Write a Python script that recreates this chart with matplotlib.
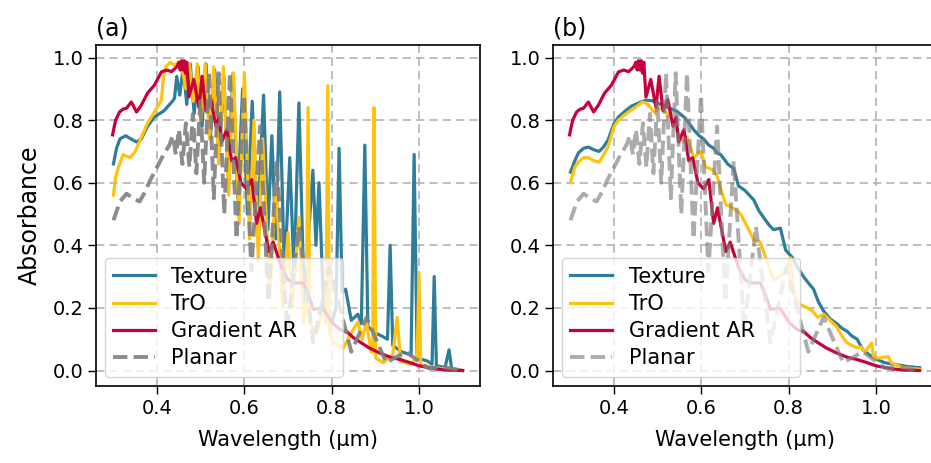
import numpy as np
import matplotlib
matplotlib.use("Agg")
import matplotlib.pyplot as plt

# ---- data (wavelength in um, absorbance) ----
# shared curves: Gradient AR and Planar are the same in both panels
grad_wl = [0.298, 0.305, 0.314, 0.322, 0.330, 0.341, 0.353, 0.364, 0.378, 0.394,
           0.410, 0.422, 0.433, 0.445, 0.450, 0.453, 0.456, 0.459, 0.462, 0.465,
           0.468, 0.473, 0.484, 0.496, 0.503, 0.512, 0.523, 0.535, 0.542, 0.548,
           0.560, 0.571, 0.580, 0.592, 0.605, 0.617, 0.628, 0.637, 0.645, 0.656,
           0.666, 0.685, 0.700, 0.713, 0.735, 0.750, 0.758, 0.780, 0.800, 0.820,
           0.834, 0.850, 0.866, 0.885, 0.910, 0.935, 0.957, 0.980, 1.000, 1.020,
           1.040, 1.060, 1.080, 1.100]
grad_abs = [0.753, 0.800, 0.826, 0.835, 0.838, 0.858, 0.826, 0.848, 0.886, 0.912,
            0.954, 0.960, 0.955, 0.970, 0.985, 0.960, 0.990, 0.960, 0.990, 0.950,
            0.985, 0.874, 0.930, 0.840, 0.940, 0.830, 0.866, 0.780, 0.810, 0.730,
            0.770, 0.670, 0.680, 0.600, 0.580, 0.610, 0.470, 0.520, 0.460, 0.380,
            0.410, 0.330, 0.290, 0.280, 0.280, 0.230, 0.195, 0.200, 0.155, 0.130,
            0.125, 0.105, 0.090, 0.073, 0.056, 0.042, 0.035, 0.025, 0.015, 0.010,
            0.005, 0.002, 0.001, 0.000]

planar_wl = [0.300, 0.315, 0.330, 0.345, 0.360, 0.372, 0.385, 0.400, 0.415, 0.428,
             0.436, 0.443, 0.450, 0.458, 0.466, 0.474, 0.482, 0.490, 0.499, 0.508,
             0.519, 0.530, 0.541, 0.554, 0.567, 0.582, 0.599, 0.616, 0.636, 0.655,
             0.674, 0.698, 0.725, 0.758, 0.795, 0.845, 0.880, 0.925, 0.970, 1.020,
             1.060, 1.100]
planar_abs = [0.480, 0.540, 0.565, 0.550, 0.540, 0.570, 0.610, 0.650, 0.690, 0.720,
              0.750, 0.690, 0.770, 0.660, 0.790, 0.650, 0.820, 0.630, 0.860, 0.600,
              0.950, 0.550, 0.950, 0.500, 0.950, 0.420, 0.880, 0.320, 0.780, 0.220,
              0.670, 0.130, 0.460, 0.090, 0.330, 0.060, 0.170, 0.025, 0.060, 0.008,
              0.010, 0.000]

# panel (a)
tex_a_wl = [0.300, 0.307, 0.315, 0.328, 0.340, 0.353, 0.364, 0.378, 0.394, 0.416,
            0.435, 0.440, 0.445, 0.452, 0.460, 0.468, 0.476, 0.485, 0.494, 0.503,
            0.512, 0.522, 0.532, 0.543, 0.553, 0.563, 0.574, 0.585, 0.596, 0.607,
            0.618, 0.630, 0.644, 0.654, 0.663, 0.672, 0.681, 0.692, 0.704, 0.714,
            0.725, 0.737, 0.748, 0.757, 0.764, 0.771, 0.782, 0.800, 0.810, 0.817,
            0.824, 0.832, 0.845, 0.860, 0.868, 0.876, 0.883, 0.900, 0.915, 0.928,
            0.934, 0.940, 0.960, 0.982, 0.989, 0.996, 1.020, 1.030, 1.035, 1.040,
            1.060, 1.069, 1.075, 1.100]
tex_a_abs = [0.660, 0.710, 0.740, 0.750, 0.740, 0.730, 0.740, 0.780, 0.810, 0.830,
             0.860, 0.870, 0.940, 0.880, 0.970, 0.850, 0.980, 0.820, 0.970, 0.780,
             0.980, 0.740, 0.960, 0.700, 0.940, 0.620, 0.950, 0.550, 0.900, 0.500,
             0.860, 0.450, 0.880, 0.450, 0.750, 0.420, 0.890, 0.300, 0.680, 0.300,
             0.855, 0.220, 0.450, 0.640, 0.400, 0.600, 0.180, 0.150, 0.200, 0.710,
             0.250, 0.260, 0.160, 0.180, 0.150, 0.720, 0.140, 0.120, 0.110, 0.100,
             0.400, 0.080, 0.060, 0.050, 0.690, 0.040, 0.030, 0.020, 0.300, 0.015,
             0.010, 0.066, 0.005, 0.000]

tro_a_wl = [0.300, 0.305, 0.314, 0.322, 0.330, 0.338, 0.350, 0.364, 0.378, 0.394,
            0.410, 0.414, 0.420, 0.430, 0.440, 0.450, 0.458, 0.466, 0.474, 0.483,
            0.492, 0.501, 0.510, 0.520, 0.530, 0.541, 0.552, 0.564, 0.575, 0.588,
            0.600, 0.612, 0.622, 0.632, 0.642, 0.658, 0.672, 0.688, 0.700, 0.710,
            0.725, 0.736, 0.742, 0.746, 0.750, 0.766, 0.780, 0.787, 0.791, 0.795,
            0.805, 0.826, 0.845, 0.860, 0.870, 0.880, 0.890, 0.894, 0.897, 0.901,
            0.918, 0.940, 0.950, 0.958, 0.980, 0.996, 1.000, 1.004, 1.030, 1.060,
            1.100]
tro_a_abs = [0.560, 0.620, 0.660, 0.690, 0.685, 0.680, 0.700, 0.745, 0.790, 0.826,
             0.864, 0.930, 0.970, 0.985, 0.975, 0.985, 0.960, 0.900, 0.980, 0.860,
             0.980, 0.800, 0.980, 0.740, 0.970, 0.660, 0.970, 0.560, 0.950, 0.470,
             0.950, 0.420, 0.800, 0.350, 0.740, 0.235, 0.600, 0.200, 0.440, 0.200,
             0.490, 0.150, 0.200, 0.840, 0.150, 0.120, 0.200, 0.150, 0.910, 0.120,
             0.090, 0.070, 0.120, 0.155, 0.100, 0.155, 0.060, 0.060, 0.840, 0.040,
             0.025, 0.050, 0.170, 0.030, 0.020, 0.040, 0.310, 0.020, 0.010, 0.005,
             0.000]

# panel (b)
tex_b_wl = [0.300, 0.310, 0.318, 0.330, 0.341, 0.354, 0.366, 0.376, 0.386, 0.400,
            0.410, 0.423, 0.440, 0.455, 0.473, 0.487, 0.500, 0.512, 0.523, 0.542,
            0.560, 0.572, 0.583, 0.595, 0.605, 0.617, 0.628, 0.636, 0.644, 0.655,
            0.660, 0.674, 0.685, 0.700, 0.720, 0.732, 0.742, 0.755, 0.765, 0.781,
            0.793, 0.809, 0.820, 0.834, 0.845, 0.857, 0.868, 0.880, 0.895, 0.910,
            0.922, 0.934, 0.945, 0.957, 0.970, 0.985, 1.003, 1.020, 1.040, 1.070,
            1.100]
tex_b_abs = [0.634, 0.670, 0.695, 0.710, 0.714, 0.705, 0.700, 0.715, 0.736, 0.790,
             0.810, 0.826, 0.845, 0.854, 0.864, 0.862, 0.854, 0.848, 0.840, 0.830,
             0.810, 0.790, 0.768, 0.750, 0.740, 0.720, 0.710, 0.695, 0.690, 0.670,
             0.660, 0.645, 0.590, 0.575, 0.545, 0.510, 0.490, 0.465, 0.450, 0.455,
             0.385, 0.360, 0.330, 0.300, 0.280, 0.260, 0.220, 0.190, 0.165, 0.150,
             0.135, 0.125, 0.110, 0.100, 0.066, 0.050, 0.035, 0.025, 0.020, 0.013,
             0.009]

tro_b_wl = [0.300, 0.310, 0.318, 0.330, 0.341, 0.354, 0.366, 0.376, 0.386, 0.400,
            0.410, 0.423, 0.445, 0.466, 0.478, 0.491, 0.507, 0.523, 0.537, 0.548,
            0.560, 0.567, 0.583, 0.599, 0.610, 0.628, 0.636, 0.644, 0.656, 0.667,
            0.685, 0.690, 0.705, 0.720, 0.735, 0.750, 0.765, 0.780, 0.793, 0.804,
            0.812, 0.820, 0.843, 0.855, 0.866, 0.880, 0.895, 0.910, 0.922, 0.934,
            0.945, 0.957, 0.965, 0.975, 0.990, 0.995, 1.010, 1.028, 1.035, 1.060,
            1.100]
tro_b_abs = [0.600, 0.650, 0.666, 0.680, 0.680, 0.670, 0.666, 0.690, 0.714, 0.780,
             0.800, 0.816, 0.838, 0.858, 0.850, 0.826, 0.840, 0.820, 0.800, 0.750,
             0.730, 0.746, 0.680, 0.700, 0.650, 0.640, 0.620, 0.580, 0.530, 0.524,
             0.507, 0.500, 0.460, 0.417, 0.410, 0.350, 0.290, 0.300, 0.320, 0.360,
             0.250, 0.215, 0.200, 0.190, 0.170, 0.180, 0.160, 0.140, 0.110, 0.088,
             0.080, 0.073, 0.075, 0.060, 0.088, 0.040, 0.040, 0.045, 0.025, 0.010,
             0.004]

C_TEX = "#2e7d9b"
C_TRO = "#ffc20e"
C_GRAD = "#c8003c"
C_PLAN = "gray"

plt.rcParams["font.family"] = "DejaVu Sans"
plt.rcParams["font.size"] = 14

fig = plt.figure(figsize=(9.31, 4.63), dpi=100)
ax_a = fig.add_axes([0.1031, 0.1663, 0.4125, 0.7365])
ax_b = fig.add_axes([0.5940, 0.1663, 0.4125, 0.7365])

panels = [
    (ax_a, "(a)", tex_a_wl, tex_a_abs, tro_a_wl, tro_a_abs, 0.9),
    (ax_b, "(b)", tex_b_wl, tex_b_abs, tro_b_wl, tro_b_abs, 0.65),
]

for ax, tag, twl, tab, owl, oab, plan_alpha in panels:
    ax.plot(twl, tab, color=C_TEX, lw=2.3, label="Texture")
    ax.plot(owl, oab, color=C_TRO, lw=2.3, label="TrO")
    ax.plot(grad_wl, grad_abs, color=C_GRAD, lw=2.3, label="Gradient AR")
    ax.plot(planar_wl, planar_abs, color=C_PLAN, lw=2.8, ls="--",
            alpha=plan_alpha, label="Planar")

    ax.set_xlim(0.26, 1.14)
    ax.set_ylim(-0.0495, 1.04)
    ax.set_xlabel("Wavelength (\u00b5m)", fontsize=15, labelpad=9)
    ax.set_title(tag, loc="left", fontsize=17, pad=7)
    ax.set_xticks([0.4, 0.6, 0.8, 1.0])
    ax.set_yticks([0.0, 0.2, 0.4, 0.6, 0.8, 1.0])
    ax.grid(True, ls=(0, (5, 3)), color="#b4b4b4", lw=1.2)
    ax.tick_params(length=5.5, width=1.0)
    for s in ax.spines.values():
        s.set_linewidth(1.2)
    # legend box is wider than its text in the reference -> expand mode
    ax.legend(loc="lower left", fontsize=15, labelspacing=0.35,
              bbox_to_anchor=(0.023, 0.027, 0.62, 0.3), mode="expand",
              borderaxespad=0.0)

ax_a.set_ylabel("Absorbance", fontsize=17, labelpad=8)

fig.savefig("out.png", dpi=100)
